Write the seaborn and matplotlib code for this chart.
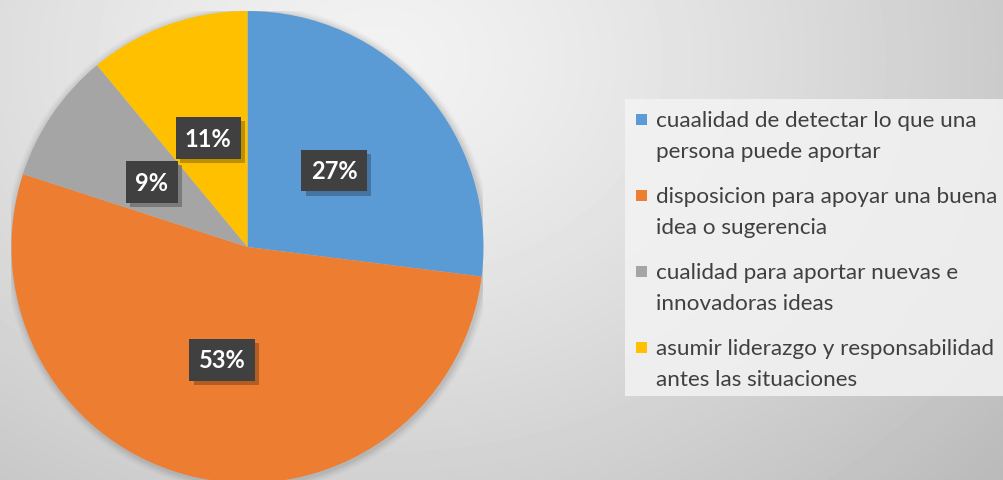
import numpy as np
import matplotlib
matplotlib.use("Agg")
import matplotlib.pyplot as plt
import matplotlib.patheffects as pe
from matplotlib.patches import Rectangle
from matplotlib.legend_handler import HandlerPatch
import seaborn as sns

categories = [
    "cuaalidad de detectar lo que una\npersona puede aportar",
    "disposicion para apoyar una buena\nidea o sugerencia",
    "cualidad para aportar nuevas e\ninnovadoras ideas",
    "asumir liderazgo y responsabilidad\nantes las situaciones",
]
values = [27, 53, 9, 11]
colors = ["#5B9BD5", "#ED7D31", "#A5A5A5", "#FFC000"]

sns.set_theme(style="white")
plt.rcParams["font.family"] = ["Lato", "DejaVu Sans"]

W, H = 1004, 481
fig = plt.figure(figsize=(W / 100, H / 100), dpi=100)

# background radial gradient
bg = fig.add_axes([0, 0, 1, 1], zorder=-10)
yy, xx = np.mgrid[0:H, 0:W]
d = np.sqrt(((xx - 380) / 900) ** 2 + ((yy - 60) / 700) ** 2)
shade = np.clip(0.95 - 0.25 * d ** 1.3, 0, 1)
bg.imshow(shade, cmap="gray", vmin=0, vmax=1, aspect="auto", extent=[0, W, H, 0])
bg.set_axis_off()

# pie axes
cx, cy, R = 247.5, 248, 236
ax = fig.add_axes([(cx - R) / W, (H - cy - R) / H, 2 * R / W, 2 * R / H])

# soft shadow halo behind the pie
for k, a in enumerate([0.05, 0.04, 0.03, 0.02]):
    ax.add_patch(plt.Circle((0.004, -0.006), 1.0 + 0.008 * (k + 1), color="black",
                            alpha=a, linewidth=0, zorder=0))

wedges, texts, autotexts = ax.pie(
    values, colors=colors, startangle=90, counterclock=False,
    autopct=lambda p: f"{p:.0f}%", pctdistance=0.49,
    wedgeprops=dict(linewidth=0, zorder=2),
    textprops=dict(color="white", fontsize=17, fontweight="bold"),
)
ax.set_xlim(-1, 1)
ax.set_ylim(-1, 1)
ax.set_aspect("equal")
ax.set_axis_off()

for t in autotexts:
    t.set_zorder(5)
    t.set_bbox(dict(boxstyle="square,pad=0.4", facecolor="#404040",
                    edgecolor="none", linewidth=0))
    t.get_bbox_patch().set_path_effects(
        [pe.SimplePatchShadow(offset=(3, -3), shadow_rgbFace="black", alpha=0.25), pe.Normal()])

# legend box
fig.patches.append(Rectangle((625 / W, (H - 397) / H), (W - 625) / W, 297 / H,
                             transform=fig.transFigure, facecolor="#f3f3f3",
                             edgecolor="none", alpha=0.85, zorder=1))


class TopHandler(HandlerPatch):
    def create_artists(self, legend, orig_handle, xdescent, ydescent, width, height, fontsize, trans):
        s = width
        r = Rectangle((-xdescent, -ydescent + height * 0.5 + fontsize * 0.46), s, s,
                      facecolor=orig_handle.get_facecolor(), edgecolor="none", transform=trans)
        return [r]


leg = fig.legend(
    wedges, categories, loc="upper left",
    bbox_to_anchor=(636 / W, 1 - 111 / H), bbox_transform=fig.transFigure,
    frameon=False, fontsize=16.2, labelcolor="#404040",
    handlelength=0.5, handleheight=0.5, handletextpad=0.4,
    labelspacing=1.13, borderaxespad=0, borderpad=0,
    handler_map={matplotlib.patches.Wedge: TopHandler()},
)
leg.set_zorder(5)
for t in leg.get_texts():
    t.set_linespacing(1.67)

fig.savefig("out.png", dpi=100)
